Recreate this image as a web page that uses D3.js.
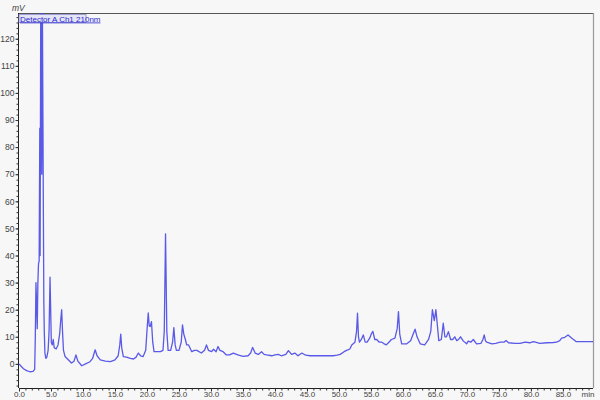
<!DOCTYPE html>
<html>
<head>
<meta charset="utf-8">
<script src="https://cdn.jsdelivr.net/npm/d3@7"></script>
<style>
  html, body { margin: 0; padding: 0; background: #f7f7f7; }
  svg { display: block; }
</style>
</head>
<body>
<svg id="chart" width="600" height="400"></svg>
<script>
// ---- data (retention time in min, signal in mV) ----
const times = [
  0.0,0.3,0.7,1.2,1.7,2.2,2.45,2.55,2.65,2.75,2.85,2.95,3.05,3.15,3.25,3.3,3.4,3.5,3.55,3.65,3.8,3.88,3.95,4.05,4.2,4.35,4.55,4.7,4.85,4.95,
  5.05,5.2,5.35,5.5,5.8,6.1,6.35,6.55,6.67,6.8,6.95,7.2,7.7,8.2,8.6,8.9,9.2,9.8,10.4,11.1,11.5,11.9,12.2,12.7,13.5,14.3,15.0,15.5,15.75,15.9,
  16.05,16.3,16.8,17.4,17.9,18.3,18.65,19.0,19.4,19.8,20.05,20.2,20.35,20.5,20.7,20.9,21.1,21.6,22.1,22.5,22.7,22.9,23.0,23.1,23.3,23.7,24.0,24.2,24.4,24.6,
  25.0,25.35,25.55,25.75,26.0,26.2,26.5,27.0,27.4,27.8,28.5,29.0,29.3,29.6,30.1,30.4,30.8,31.1,31.4,31.9,32.4,32.9,33.5,34.2,35.0,35.8,36.2,36.5,36.9,37.4,
  37.9,38.3,38.7,39.5,40.0,40.5,41.0,41.7,42.1,42.6,43.1,43.6,44.2,44.8,45.5,47.0,48.5,49.1,49.7,50.2,50.8,51.2,51.7,52.0,52.5,52.75,52.9,53.05,53.2,53.5,
  53.8,54.1,54.4,54.8,55.1,55.3,55.6,55.9,56.3,56.7,57.0,57.4,57.8,58.2,58.75,59.1,59.3,59.5,59.8,60.6,61.2,61.6,61.9,62.2,62.7,63.4,64.0,64.35,64.6,64.9,
  65.15,65.35,65.6,66.0,66.3,66.55,66.8,67.1,67.45,67.8,68.1,68.4,68.7,69.0,69.45,69.95,70.2,70.6,71.0,71.5,72.2,72.5,72.7,72.9,73.1,73.9,74.5,75.2,75.8,76.1,
  76.5,77.5,78.3,79.1,79.8,80.4,81.4,82.5,83.5,84.0,84.5,84.8,85.3,85.8,86.4,87.1,87.9,88.8,89.7
];
const signal = [
  0,-0.8,-1.8,-2.5,-2.9,-2.8,-2,10,30,22,13,30,37,38,87,40,135,100,70,135,60,23,12,4,2,2.5,5,12,32,20,
  8,7,9,6,5.5,7,11,17,20,12,5,2.7,1.5,0.3,1,3.3,1,-0.7,0,0.8,2,5.2,3,1.5,1,0.8,1.5,3,7,11,
  6,2.7,2.5,2,1.8,2.5,4,3,2.7,5,14,18.8,14,13.8,15.6,8,4.5,4.5,4.5,5,12,48,30,12,5,5,8,13.4,7,5,
  5,8,14.4,11,9,7,7,4.5,5,5,4,5,7,5,4.5,5.4,4.5,6.4,5,4.5,3.3,3.3,4,3.3,2.8,3,4,6.1,4,3.5,
  4.5,3.5,3.3,3,3.3,3.5,3,3.5,4.9,3.5,4,3,4,3.2,3,3,3,3,3.2,3.5,4.5,5,5.5,7,8,12,18.7,10,8,9,
  10.7,8,8,9.5,11.3,12,9,9,8,8,7.5,7,8,9,9.5,13,19.3,11,7.4,7.4,8.5,11,12.8,10,7.4,7,9,12,20,16,
  20,15,8.6,9,15,10,10,11.9,9,9,10,8.6,9,10,8.4,7.4,8.4,8,9,7.4,7.6,9,10.7,8.5,8,7.4,7.6,8,8,8.6,
  7.8,7.6,7.6,8,7.8,8.2,7.6,7.8,7.9,8,8.6,9.5,9.8,10.7,9.5,8.2,8.2,8.2,8.2
];
const xTickValues = [0,5,10,15,20,25,30,35,40,45,50,55,60,65,70,75,80,85];
const yTickValues = [0,10,20,30,40,50,60,70,80,90,100,110,120];
const xUnit = "min";
const yUnit = "mV";
const seriesName = "Detector A Ch1 210nm";

// ---- layout ----
const svg = d3.select("#chart");
const pLeft = 19, pRight = 593, pTop = 13, pBottom = 388;
const x = d3.scaleLinear().domain([0, 89.7]).range([pLeft, pRight]);
const y = d3.scaleLinear().domain([-8.9, 129.5]).range([pBottom, pTop]);

svg.append("rect").attr("width", 600).attr("height", 400).attr("fill", "#f7f7f7");

svg.append("defs").append("clipPath").attr("id", "clip")
  .append("rect").attr("x", pLeft).attr("y", pTop).attr("width", pRight - pLeft).attr("height", pBottom - pTop);

// frame top and right
svg.append("line").attr("x1", pLeft).attr("x2", pRight).attr("y1", pTop + 0.5).attr("y2", pTop + 0.5)
  .attr("stroke", "#555").attr("stroke-width", 1.2);
svg.append("line").attr("x1", pRight + 0.5).attr("x2", pRight + 0.5).attr("y1", pTop).attr("y2", pBottom)
  .attr("stroke", "#999").attr("stroke-width", 1.2);

const fontFam = "'Liberation Sans Narrow', 'Liberation Sans', Arial, sans-serif";

// x axis
const xAxis = d3.axisBottom(x).tickValues(xTickValues).tickFormat(d3.format(".1f")).tickSize(3).tickPadding(0);
const gx = svg.append("g").attr("transform", `translate(0,${pBottom + 0.5})`).call(xAxis);
const xMinor = d3.axisBottom(x).tickValues(d3.range(0, 90, 1)).tickFormat("").tickSize(2);
svg.append("g").attr("transform", `translate(0,${pBottom + 0.5})`).call(xMinor).select(".domain").remove();
gx.select(".domain").attr("stroke", "#222").attr("d", `M${pLeft},0H${pRight}`);
gx.selectAll("text").attr("font-family", fontFam).attr("font-size", 8).attr("fill", "#444");
gx.append("text").attr("x", 588).attr("y", 3).attr("dy", "0.71em").attr("text-anchor", "middle")
  .attr("font-family", fontFam).attr("font-size", 8).attr("fill", "#444").text(xUnit);

// y axis
const yAxis = d3.axisLeft(y).tickValues(yTickValues).tickFormat(d3.format("d")).tickSize(3).tickPadding(1);
const gy = svg.append("g").attr("transform", `translate(${pLeft - 0.5},0)`).call(yAxis);
const yMinor = d3.axisLeft(y).tickValues(d3.range(-8, 130, 2)).tickFormat("").tickSize(2);
svg.append("g").attr("transform", `translate(${pLeft - 0.5},0)`).call(yMinor).select(".domain").remove();
gy.select(".domain").attr("stroke", "#222").attr("d", `M0,${pTop}V${pBottom}`);
gy.selectAll("text").attr("font-family", fontFam).attr("font-size", 8.5).attr("fill", "#444");
svg.selectAll(".tick line").attr("stroke", "#333");

svg.append("text").attr("x", 12).attr("y", 11).attr("font-family", fontFam).attr("font-size", 8.5)
  .attr("font-style", "italic").attr("fill", "#444").text(yUnit);

// signal line
const data = times.map((t, i) => ({ t, v: signal[i] }));
const line = d3.line().x(d => x(d.t)).y(d => y(d.v));
svg.append("path").datum(data).attr("clip-path", "url(#clip)")
  .attr("d", line).attr("fill", "none").attr("stroke", "#4848e6")
  .attr("stroke-width", 1.3).attr("stroke-linejoin", "round").attr("stroke-opacity", 0.9);

// legend label
const lg = svg.append("g");
lg.append("rect").attr("x", 19).attr("y", 14.5).attr("width", 67).attr("height", 8)
  .attr("fill", "#e4e4f4").attr("stroke", "#8a8ad0").attr("stroke-width", 0.8);
lg.append("text").attr("x", 20).attr("y", 21.5).attr("font-family", fontFam).attr("font-size", 8)
  .attr("fill", "#2a2ad0").attr("text-decoration", "underline").text(seriesName);
</script>
</body>
</html>
